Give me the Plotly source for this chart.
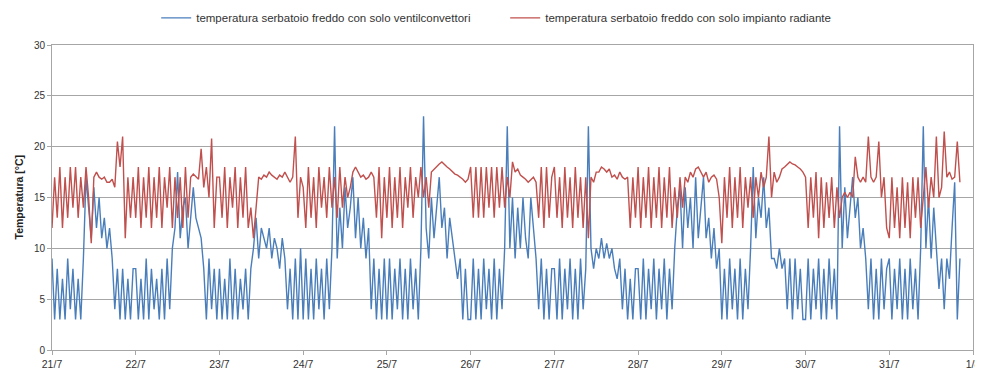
import pandas as pd
import plotly.graph_objects as go

start_time = "2011-07-21 00:00"
step = "45min"

# blue: temperatura serbatoio freddo con solo ventilconvettori (one list per day, 45-min samples)
blue_d21 = [9, 3, 8, 3, 7, 3, 9, 4, 8, 3, 7, 3, 9, 17, 14, 11, 16, 12, 15, 11, 13, 10, 12, 9, 4, 8, 3, 8, 3, 7, 3, 8]
blue_d22 = [8, 3, 7, 3, 9, 3, 8, 4, 7, 3, 8, 3, 9, 4, 10, 12, 17.5, 11, 14, 15, 10, 13, 16, 13, 12, 11, 8, 3, 9, 4, 8, 3]
blue_d23 = [8, 3, 7, 3, 9, 3, 8, 3, 7, 4, 8, 3, 8, 10, 13, 9, 12, 11, 10, 12, 9, 11, 10, 8, 11, 9, 4, 8, 3, 9, 3, 10]
blue_d24 = [3, 9, 3, 8, 3, 9, 4, 8, 3, 9, 4, 10, 22, 9, 14, 10, 16, 12, 14, 17, 11, 15, 10, 13, 9, 12, 4, 9, 3, 8, 3, 9]
blue_d25 = [3, 9, 3, 8, 4, 9, 3, 8, 3, 9, 4, 8, 3, 10, 23, 12, 9, 15, 11, 14, 17, 12, 14, 9, 13, 11, 9, 7, 9, 3, 8, 3]
blue_d26 = [3, 9, 3, 8, 3, 9, 4, 8, 3, 9, 3, 8, 4, 10, 22, 10, 15, 9, 14, 10, 15, 11, 9, 15, 12, 9, 4, 9, 3, 8, 3, 8]
blue_d27 = [8, 3, 9, 3, 8, 4, 9, 3, 8, 3, 9, 4, 8, 22, 10, 8, 10, 9, 11, 9, 10.5, 9, 10, 8, 7, 9, 4, 8, 3, 7, 3, 8]
blue_d28 = [8, 3, 9, 3, 8, 4, 9, 3, 8, 4, 9, 3, 8, 4, 10, 14, 16, 10, 16, 12, 15, 10, 17, 11, 14, 17, 11, 13, 9, 12, 8, 10]
blue_d29 = [3, 8, 3, 9, 4, 8, 3, 9, 3, 8, 4, 10, 18, 11, 15, 13, 17, 12, 14, 9, 9, 8, 10, 8, 9, 4, 9, 3, 9, 4, 8, 3]
blue_d30 = [3, 9, 3, 8, 4, 9, 3, 8, 3, 9, 4, 8, 3, 22, 10, 16, 11, 14, 17, 13, 15, 10, 12, 9, 4, 9, 3, 8, 3, 9, 4, 8]
blue_d31 = [9, 3, 8, 4, 9, 3, 8, 3, 9, 4, 8, 3, 10, 22, 10, 15, 9, 14, 10, 6, 9, 4, 9, 7, 12, 16.5, 3, 9]

# red: temperatura serbatoio freddo con solo impianto radiante
red_d21 = [12, 17, 13, 18, 12, 17, 13, 18, 14, 18, 13, 17, 14, 18, 15, 10.5, 17, 17.5, 17, 16.8, 17, 16.5, 16.5, 16.8, 16, 20.5, 18, 21, 11, 17, 13, 17]
red_d22 = [13, 18, 12, 17, 13, 18, 12, 17, 13, 18, 12, 17, 14, 18, 12, 17, 13, 17, 12, 18, 13, 17, 17.3, 17, 16.8, 19.8, 16, 18, 15, 20.8, 12, 17]
red_d23 = [17, 13, 18, 12, 17, 14, 18, 12, 17, 13, 18, 12, 14, 11, 14, 17, 16.8, 17.2, 17, 17.5, 17.2, 17, 16.8, 17.2, 17, 17.5, 17, 16.5, 17, 21, 13, 17]
red_d24 = [16, 12, 18, 13, 17, 12, 18, 14, 17, 13, 18, 14, 17, 13, 18, 14, 17, 15, 16, 17.5, 18, 17.5, 17, 17.2, 16.8, 17, 17.5, 17, 13, 18, 11, 17]
red_d25 = [13, 18, 12, 17, 13, 18, 12, 17, 14, 18, 13, 17, 15, 18, 15, 17, 14, 17.5, 17.8, 18, 18.3, 18.5, 18.2, 18, 17.8, 17.5, 17.3, 17.2, 17, 16.8, 16.5, 16.8]
red_d26 = [18, 13, 18, 13, 18, 13, 18, 14, 18, 13, 18, 14, 18, 14, 17, 15, 18.5, 17.5, 17.8, 17.2, 17, 16.8, 16.5, 16.8, 17, 16.5, 13, 18, 12, 18, 13, 17]
red_d27 = [18, 13, 17, 12, 18, 13, 17, 12, 18, 13, 17, 12, 17, 11, 17, 16.5, 17.5, 17.5, 18, 17.8, 17.5, 17.8, 17, 17.2, 16.8, 17.5, 17, 16.8, 17, 12, 17, 13]
red_d28 = [18, 12, 17, 13, 18, 12, 17, 13, 18, 12, 17, 13, 18, 12, 16, 13, 17, 14, 17, 16.5, 17.5, 17, 17.8, 18, 17.5, 17, 17.5, 16.5, 17, 17.2, 16.8, 15]
red_d29 = [10.5, 17, 13, 18, 12, 17, 13, 18, 12, 17, 14, 17, 13, 17, 15, 17.5, 16, 17, 21, 15, 17.5, 16.5, 17, 17.8, 18, 18.3, 18.5, 18.3, 18.2, 18, 17.8, 17.5]
red_d30 = [17, 12, 17, 13, 17.5, 11, 17, 12, 16.5, 13, 17, 12, 16, 13, 15, 15.5, 15, 15.5, 15, 19, 17, 16.5, 17, 16.5, 21, 17, 16.5, 17, 20.5, 15, 17, 12]
red_d31 = [11, 17, 12, 16, 11, 17, 12, 16.5, 11, 17, 13, 17, 12, 15, 18, 14, 17, 15, 21, 15, 16, 21.5, 17, 17.5, 16.8, 17, 20.5, 16.5]

tick_dates = ["2011-07-21", "2011-07-22", "2011-07-23", "2011-07-24", "2011-07-25", "2011-07-26",
              "2011-07-27", "2011-07-28", "2011-07-29", "2011-07-30", "2011-07-31", "2011-08-01"]
tick_labels = ["21/7", "22/7", "23/7", "24/7", "25/7", "26/7", "27/7", "28/7", "29/7", "30/7", "31/7", "1/8"]
y_ticks = [0, 5, 10, 15, 20, 25, 30]

name_blue = "temperatura serbatoio freddo con solo ventilconvettori"
name_red = "temperatura serbatoio freddo con solo impianto radiante"
y_title = "<b>Temperatura [°C]</b>"

blue_values = (blue_d21 + blue_d22 + blue_d23 + blue_d24 + blue_d25 + blue_d26
               + blue_d27 + blue_d28 + blue_d29 + blue_d30 + blue_d31)
red_values = (red_d21 + red_d22 + red_d23 + red_d24 + red_d25 + red_d26
              + red_d27 + red_d28 + red_d29 + red_d30 + red_d31)

times_blue = pd.date_range(start_time, periods=len(blue_values), freq=step)
times_red = pd.date_range(start_time, periods=len(red_values), freq=step)

fig = go.Figure()
fig.add_trace(go.Scatter(x=times_blue, y=blue_values, mode="lines", name=name_blue,
                         line=dict(color="#4A7EBB", width=1.4)))
fig.add_trace(go.Scatter(x=times_red, y=red_values, mode="lines", name=name_red,
                         line=dict(color="#C0504D", width=1.4)))

font_family = "Liberation Sans, Arial, sans-serif"

# page body has an 8px default margin, so the figure is sized to fit the 983x374 window
fig.update_layout(
    width=975, height=366,
    margin=dict(l=44, r=10, t=37, b=24, autoexpand=False),
    paper_bgcolor="white", plot_bgcolor="white",
    font=dict(family=font_family, size=10, color="#333333"),
    showlegend=True,
    legend=dict(orientation="h", xref="container", yref="container",
                x=0.152, y=0.973, xanchor="left", yanchor="middle",
                font=dict(size=11.5, color="#333333"), itemwidth=30,
                entrywidth=304, bgcolor="rgba(0,0,0,0)"),
    xaxis=dict(range=[tick_dates[0], tick_dates[-1]], tickvals=tick_dates, ticktext=tick_labels,
               showgrid=False, showline=True, linecolor="#A6A6A6", linewidth=1,
               mirror=True, ticks="outside", ticklen=4, tickcolor="#A6A6A6",
               tickfont=dict(size=10.5, color="#333333"), zeroline=False, automargin=False),
    yaxis=dict(range=[0, 30], tickvals=y_ticks, showgrid=True, gridcolor="#A6A6A6", gridwidth=1,
               showline=True, linecolor="#A6A6A6", linewidth=1, mirror=True,
               ticks="outside", ticklen=4, tickcolor="#A6A6A6",
               tickfont=dict(size=10, color="#333333"), zeroline=False, automargin=False),
    annotations=[dict(text=y_title, xref="paper", yref="paper", x=0, y=0.5,
                      xshift=-34, xanchor="center", yanchor="middle", textangle=-90,
                      showarrow=False, font=dict(size=10.5, color="#222222"))],
)

fig.write_html("out.html")
